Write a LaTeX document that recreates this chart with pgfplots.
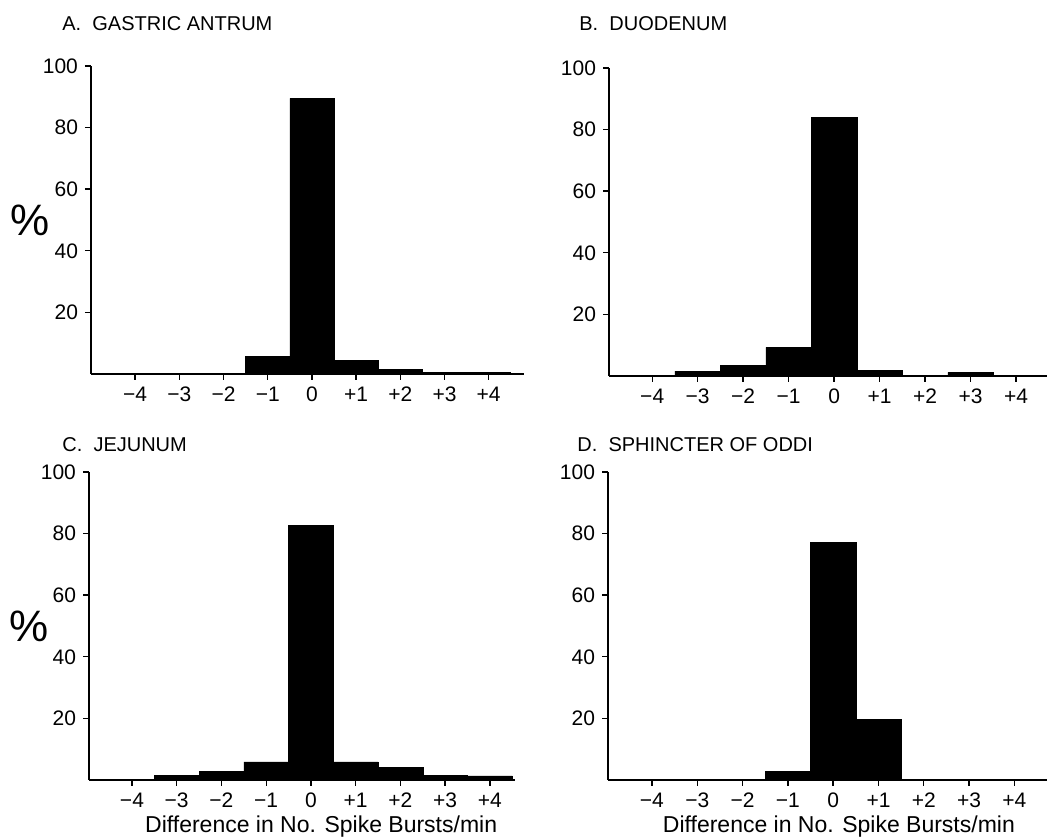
\documentclass[border=0pt]{standalone}
\usepackage{fontspec}
\setmainfont{Liberation Sans}
\usepackage{pgfplots}
\pgfplotsset{compat=1.18}

% one pixel of the reference = 0.5pt
\pgfplotsset{
  panel/.style={
    scale only axis,
    height=154pt,
    anchor=south west,
    xmin=-5, ymin=0, ymax=100,
    axis x line=bottom, axis y line=left,
    axis line style={-, line width=1.3pt},
    tick align=outside,
    major tick length=3pt,
    tick style={line width=0.7pt, black},
    xtick={-4,...,4},
    xticklabels={−4,−3,−2,−1,0,+1,+2,+3,+4},
    ytick={20,40,60,80,100},
    ticklabel style={font=\fontsize{10.5}{12}\selectfont},
    /pgf/number format/assume math mode=true,
    clip=false,
  },
  pct/.style={
    ylabel={\%},
    ylabel style={rotate=-90, font=\fontsize{22}{26}\selectfont,
      at={(axis description cs:-0.14,0.5)}, anchor=center},
  },
  diff/.style={
    xlabel={Difference in No. Spike Bursts/min},
    xlabel style={font=\fontsize{11.5}{14}\selectfont,
      at={(axis description cs:#1,-0.15)}, anchor=center},
  },
  hist/.style={ybar, bar width=1, fill=black, draw=black, line width=0.3pt},
}

\begin{document}
\begin{tikzpicture}
\useasboundingbox (0,0) rectangle (524.5pt,419.5pt);

% A. gastric antrum
\begin{axis}[panel, pct, at={(45.5pt,232.5pt)}, width=216.5pt, xmax=4.8]
\addplot[hist] coordinates {
  (-4,0.3) (-3,0.3) (-2,0.3) (-1,5.8) (0,89.5) (1,4.3) (2,1.5) (3,0.4) (4,0.4)
};
\end{axis}

% B. duodenum
\begin{axis}[panel, at={(304.5pt,231.5pt)}, width=219pt, xmin=-4.95, xmax=4.68]
\addplot[hist] coordinates {
  (-4,0.3) (-3,1.6) (-2,3.4) (-1,9.3) (0,84) (1,1.9) (2,0.3) (3,1.2) (4,0.3)
};
\end{axis}

% C. jejunum
\begin{axis}[panel, pct, diff=0.545, at={(44.5pt,29.5pt)}, width=213pt, xmin=-4.96, xmax=4.56]
\addplot[hist] coordinates {
  (-4,0.2) (-3,1.6) (-2,2.9) (-1,5.9) (0,82.7) (1,5.9) (2,4.0) (3,1.6) (4,1.3)
};
\end{axis}

% D. sphincter of Oddi
\begin{axis}[panel, diff=0.526, at={(304pt,29.5pt)}, width=219.5pt, xmin=-4.97, xmax=4.72]
\addplot[hist] coordinates {
  (-4,0.3) (-3,0.3) (-2,0.3) (-1,2.7) (0,77.2) (1,19.8) (2,0.3) (3,0.3) (4,0.3)
};
\end{axis}

\begin{scope}[every node/.style={anchor=base west, inner sep=0pt,
    font=\fontsize{10}{12}\selectfont}]
\node at (31pt,404pt) {A.\ \ GASTRIC ANTRUM};
\node at (289.5pt,404pt) {B.\ \ DUODENUM};
\node at (31pt,193.5pt) {C.\ \ JEJUNUM};
\node at (288.5pt,193.5pt) {D.\ \ SPHINCTER OF ODDI};
\end{scope}
\end{tikzpicture}
\end{document}
